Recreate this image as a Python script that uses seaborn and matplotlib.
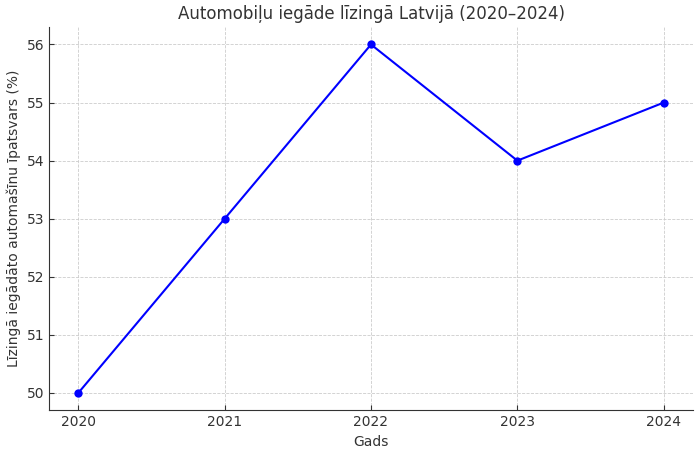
import matplotlib
matplotlib.use("Agg")
import matplotlib.pyplot as plt
import seaborn as sns
import pandas as pd

years = [2020, 2021, 2022, 2023, 2024]
share = [50, 53, 56, 54, 55]

sns.set_style("ticks")
plt.rcParams['font.family'] = ['DejaVu Sans']
plt.rcParams['text.color'] = '#333333'
plt.rcParams['axes.labelcolor'] = '#333333'
plt.rcParams['xtick.color'] = '#333333'
plt.rcParams['ytick.color'] = '#333333'
plt.rcParams['xtick.direction'] = 'in'
plt.rcParams['ytick.direction'] = 'in'

df = pd.DataFrame({'Gads': years, 'Share': share})

fig, ax = plt.subplots(figsize=(7, 4.51), dpi=100)
sns.lineplot(data=df, x='Gads', y='Share', marker='o', color='blue',
             markersize=6, markeredgewidth=0, linewidth=1.5, ax=ax)

ax.set_title('Automobiļu iegāde līzingā Latvijā (2020–2024)', fontsize=12)
ax.set_xlabel('Gads', fontsize=10)
ax.set_ylabel('Līzingā iegādāto automašīnu īpatsvars (%)', fontsize=10)
ax.set_xticks(years)
ax.set_xticklabels([str(y) for y in years])
ax.grid(True, linestyle='--', linewidth=0.6, color='#cccccc')
ax.spines['top'].set_visible(False)
ax.spines['right'].set_visible(False)
ax.spines['left'].set_color('#333333')
ax.spines['bottom'].set_color('#333333')
ax.tick_params(labelsize=10)

fig.subplots_adjust(left=0.07, right=0.99, top=0.94, bottom=0.09)
fig.savefig('out.png', dpi=100)
